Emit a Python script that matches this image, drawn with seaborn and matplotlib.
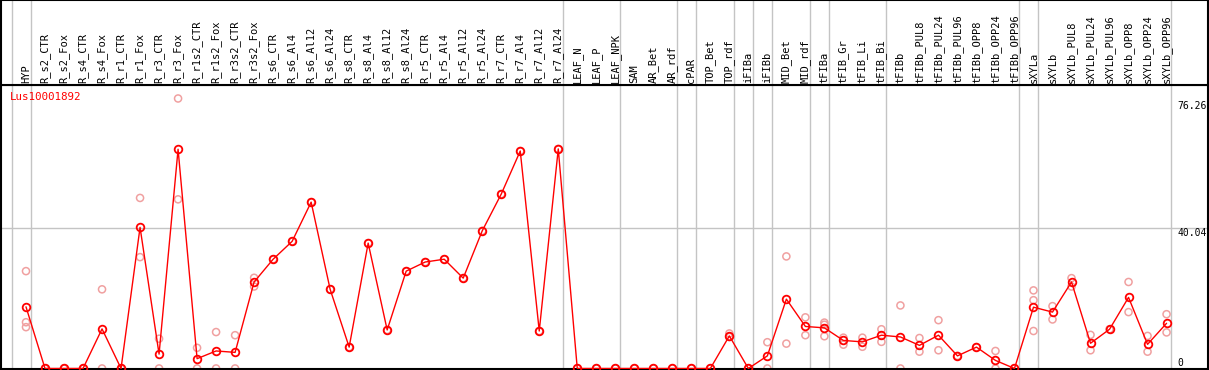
import numpy as np
import pandas as pd
import seaborn as sns
import matplotlib.pyplot as plt

samples = ["HYP",
           "R_s2_CTR", "R_s2_Fox", "R_s4_CTR", "R_s4_Fox", "R_r1_CTR", "R_r1_Fox",
           "R_r3_CTR", "R_r3_Fox", "R_r1s2_CTR", "R_r1s2_Fox", "R_r3s2_CTR", "R_r3s2_Fox",
           "R_s6_CTR", "R_s6_Al4", "R_s6_Al12", "R_s6_Al24", "R_s8_CTR", "R_s8_Al4",
           "R_s8_Al12", "R_s8_Al24", "R_r5_CTR", "R_r5_Al4", "R_r5_Al12", "R_r5_Al24",
           "R_r7_CTR", "R_r7_Al4", "R_r7_Al12", "R_r7_Al24",
           "LEAF_N", "LEAF_P", "LEAF_NPK", "SAM", "AR_Bet", "AR_rdf", "cPAR",
           "TOP_Bet", "TOP_rdf", "iFIBa", "iFIBb", "MID_Bet", "MID_rdf", "tFIBa",
           "tFIB_Gr", "tFIB_Li", "tFIB_Bi",
           "tFIBb", "tFIBb_PUL8", "tFIBb_PUL24", "tFIBb_PUL96", "tFIBb_OPP8",
           "tFIBb_OPP24", "tFIBb_OPP96", "sXYLa",
           "sXYLb", "sXYLb_PUL8", "sXYLb_PUL24", "sXYLb_PUL96", "sXYLb_OPP8",
           "sXYLb_OPP24", "sXYLb_OPP96"]

# number of samples in each block between the grey separators
group_sizes = [1, 28, 3, 3, 1, 2, 1, 1, 2, 1, 3, 7, 1, 7]

mean_expr = [17.6,
             0, 0, 0, 11.3, 0, 40.3, 4.1, 62.6, 2.8, 5.0, 4.6, 24.7,
             31.2, 36.3, 47.5, 22.6, 6.1, 35.8, 11.0, 27.8, 30.4, 31.2, 25.8, 39.3,
             49.8, 62.1, 10.7, 62.7,
             0, 0, 0, 0, 0, 0, 0, 0, 9.3, 0, 3.6, 19.8, 12.0, 11.6,
             8.0, 7.6, 9.5,
             9.0, 6.6, 9.5, 3.6, 6.1, 2.3, 0, 17.5,
             16.1, 24.7, 7.2, 11.2, 20.3, 6.9, 12.9]

replicates = [[27.8, 13.2, 11.8],
              [0, 0], [0, 0], [0, 0], [22.6, 0], [0, 0], [48.7, 31.8], [8.5, 0],
              [77.1, 48.3], [5.9, 0], [10.4, 0], [9.5, 0], [25.9, 23.4],
              [31.2], [36.3], [47.5], [22.6], [6.1], [35.8], [11.0], [27.8],
              [30.4], [31.2], [25.8], [39.3], [49.8], [62.1], [10.7], [62.7],
              [0], [0], [0], [0], [0], [0], [0], [0], [10.0, 9.0], [0], [7.5, 0],
              [32.0, 7.1], [14.6, 9.5], [13.1, 12.5, 9.2],
              [8.8, 6.8], [8.8, 6.2], [11.2, 7.6],
              [18.0, 0], [8.7, 4.8], [13.8, 5.2], [3.6], [6.1], [5.0, 0], [0],
              [22.3, 19.5, 10.7],
              [17.8, 14.0], [25.8, 23.4], [9.6, 5.2], [11.2], [24.7, 16.1],
              [9.3, 4.8], [15.5, 10.3]]

y_marks = [76.26, 40.04, 0]
gene = "Lus10001892"

sns.set_style("white")
plt.rcParams["font.family"] = ["DejaVu Sans Mono"]

pos = np.arange(len(samples))
rep_df = pd.DataFrame([(i, v) for i, vals in enumerate(replicates) for v in vals],
                      columns=["pos", "value"])
mean_df = pd.DataFrame({"pos": pos, "value": mean_expr})

W, H = 1209, 370
fig = plt.figure(figsize=(W / 100, H / 100), dpi=100)
ax = fig.add_axes([1 / W, 1 / H, 1207 / W, 284 / H])
ax_lab = fig.add_axes([1 / W, 285 / H, 1207 / W, 85 / H], sharex=ax)

ax.set_xlim(-1.315, 62.18)
ax.set_ylim(-0.15, 80.95)

seps = np.concatenate([[0], np.cumsum(group_sizes)]) - 0.75
for a in (ax, ax_lab):
    for s in seps:
        a.axvline(s, color="#c4c4c4", lw=1.0, zorder=0)
ax.axhline(40.04, color="#c4c4c4", lw=1.0, zorder=0)

sns.scatterplot(data=rep_df, x="pos", y="value", ax=ax, s=26,
                facecolor="none", edgecolor="#f0a0a0", linewidth=1.1, zorder=2)
sns.lineplot(data=mean_df, x="pos", y="value", ax=ax, color="red", lw=1.0,
             marker="o", markersize=5.5, markerfacecolor="none",
             markeredgecolor="red", markeredgewidth=1.3, zorder=3)

ax.set_xlabel("")
ax.set_ylabel("")
ax.set_xticks([])
ax.set_yticks([])
for v in y_marks:
    ax.text(1176 / 1207, v, f"{v:g}", transform=ax.get_yaxis_transform(),
            ha="left", va="top" if v else "bottom", fontsize=7, color="black")

ax.text(9 / 1207, 1 - 12 / 284, gene, transform=ax.transAxes, color="red",
        fontsize=7.8, ha="left", va="center")

ax_lab.set_ylim(0, 1)
ax_lab.set_xticks([])
ax_lab.set_yticks([])
for i, name in enumerate(samples):
    ax_lab.text(i, 2 / 85, name, rotation=90, ha="center", va="bottom",
                fontsize=7.5, color="black")

for a in (ax, ax_lab):
    for sp in a.spines.values():
        sp.set_color("black")
        sp.set_linewidth(1.5)

fig.savefig("out.png", dpi=100)
